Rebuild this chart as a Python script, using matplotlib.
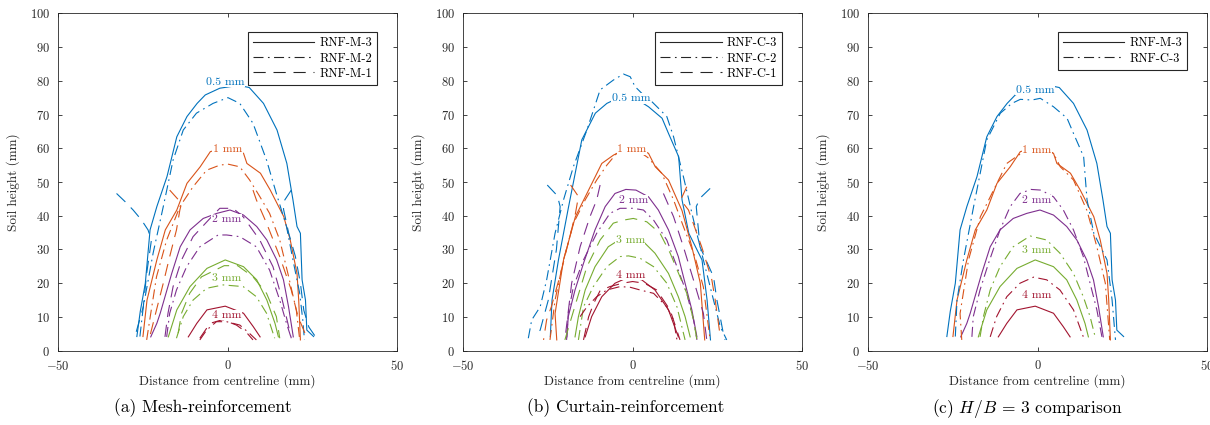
import matplotlib.pyplot as plt
from matplotlib.lines import Line2D

plt.rcParams['font.family'] = 'cmr10'
plt.rcParams['mathtext.fontset'] = 'cm'
plt.rcParams['axes.formatter.use_mathtext'] = True
plt.rcParams['axes.unicode_minus'] = False

# ---------- Data: contour lines (x, y) in mm, per specimen and settlement level ----------

levels = [0.5, 1, 2, 3, 4]
level_labels = ['0.5 mm', '1 mm', '2 mm', '3 mm', '4 mm']
level_colors = ['#0072BD', '#D95319', '#7E2F8E', '#77AC30', '#A2142F']

RNF_M3 = {
    0.5: [[(-26.8, 4.2), (-25.8, 11.6), (-24.3, 20), (-22.9, 35.8), (-20.9, 42.7), (-17.9, 51.6),
           (-15, 63.4), (-12, 69.4), (-9, 73.3), (-6.6, 75.8), (-2.3, 77.8), (1, 78.3), (4, 78.5),
           (6.4, 78), (10.6, 73.3), (14.6, 65.4), (17.5, 55.5), (19.3, 44.7), (20.5, 36.8),
           (21.5, 34.8), (22, 21), (23, 15), (23.4, 6.1), (25.4, 4.2)]],
    1: [[(-25, 4.2), (-23.8, 15), (-20.9, 26.9), (-18.4, 35.8), (-15, 41.7), (-12, 49.6),
         (-8.1, 54.5), (-5.1, 59), (-2, 59.8), (2, 59.8), (4.7, 58.5), (5.7, 55.5), (9.7, 52.6),
         (12.6, 47.6), (16.6, 39.7), (18.5, 32.8), (20.5, 22.9), (21, 15), (21.5, 3.2)]],
    2: [[(-22.7, 4.1), (-20.9, 8.1), (-19.9, 11.1), (-16.5, 22.9), (-14, 30.8), (-11.1, 35.8),
         (-7.2, 39.2), (-3.2, 40.7), (0.7, 41.7), (4.7, 40.2), (8.6, 36.8), (11.6, 32.8),
         (14.5, 26.9), (16.5, 21), (18, 13), (19.4, 4.1)]],
    3: [[(-17.5, 4.1), (-15, 12.1), (-11.1, 19), (-6.1, 24.4), (-0.7, 26.9), (4.7, 24.9),
         (8.6, 21), (11.6, 15), (14, 8.1), (15, 4.1)]],
    4: [[(-11.6, 4.1), (-9.1, 8.1), (-6.1, 12.1), (-0.7, 13.2), (4.7, 11.1), (7.6, 7.1), (9.6, 4.1)]],
}

RNF_M2 = {
    0.5: [[(-25.9, 4.2), (-24.9, 13), (-22, 28.9), (-19, 42.7), (-16.1, 56.5), (-13.1, 65.4),
           (-9.2, 70.4), (-4.3, 73.3), (0.1, 75), (3.6, 73.3), (7.5, 67.4), (11.5, 56.5),
           (14.4, 46.6), (17.4, 36.8), (19.3, 26.9), (21.3, 17), (22.2, 9.1), (22.7, 3.2)]],
    1: [[(-23.9, 3.2), (-23, 9.1), (-21, 21.9), (-18, 32.8), (-14.1, 42.7), (-10.2, 48.6),
         (-6.2, 53.5), (-2.3, 55), (0.1, 55.3), (3.6, 54.5), (6.5, 50.6), (9.5, 45.7), (12.4, 40.7),
         (15.4, 32.8), (17.8, 22.9), (20.3, 12), (21.3, 3.2)]],
    2: [[(-18, 4.1), (-17.1, 11.1), (-15.1, 18), (-12.1, 24.9), (-8.2, 30.8), (-2.8, 34.3),
         (-0.3, 34.3), (3.6, 33.8), (8.5, 30.8), (12.4, 23.9), (15.4, 15), (17.4, 8.1), (18.8, 3.7)]],
    3: [[(-15.1, 3.7), (-13.1, 10.1), (-10.2, 15), (-6.2, 18.5), (-1.3, 19.5), (4.6, 19),
         (8.5, 16), (11.5, 11.1), (13.9, 3.7)]],
    4: [[(-8.2, 3.2), (-6.2, 6.1), (-3.3, 8.6), (-0.3, 8.6), (3.6, 7.6), (6.5, 5.1), (8.5, 3.2)]],
}

RNF_M1 = {
    0.5: [[(-32.8, 46.6), (-30.3, 44.2), (-27.9, 41.7), (-25.4, 38.7), (-23.5, 35.8), (-22.5, 32.8),
           (-23.9, 22.9), (-24.9, 13), (-27.4, 4.1)],
          [(18.8, 47.6), (16.9, 44.7), (16.5, 42), (18, 35), (20, 28), (21.5, 20), (22.5, 12),
           (24, 7), (26.6, 3.2)]],
    1: [[(-17.1, 47.6), (-13.6, 43.7), (-14.1, 41.7), (-15.1, 35.8), (-17.1, 27.9), (-19, 20),
         (-21, 12.1), (-23, 4.1)],
        [(7.5, 47.6), (8.5, 44.7), (11.5, 37.8), (15.4, 27.9), (18.8, 18), (20.8, 10.1), (23.3, 4.1)]],
    2: [[(-18.5, 4.1), (-17.6, 11.1), (-16.1, 19), (-13.6, 26.9), (-10.2, 33.8), (-5.2, 39.2),
         (-2.3, 42.2), (1.6, 42.2), (4.6, 39.7), (9.5, 32.8), (13.4, 24.9), (15.9, 16),
         (17.8, 8.1), (18.8, 3.7)]],
    3: [[(-14.6, 5.2), (-13.6, 11.1), (-11.2, 17), (-7.7, 21.9), (-1, 25.2), (3, 25.2),
         (7.5, 21.9), (11.5, 17), (14.4, 10.1), (15.4, 3.7)]],
    4: [[(-8.2, 3.7), (-5.2, 8.1), (-1.5, 9.2), (2.6, 7.6), (5.5, 5.5), (7.5, 3.2)]],
}

RNF_C3 = {
    0.5: [[(-24.3, 4.2), (-23.8, 15), (-21.9, 26.9), (-18.9, 42.7), (-15, 62.5), (-11, 70.4),
           (-7.6, 73.3), (-5.1, 74.5), (-1.7, 74.3), (0.8, 74.8), (4.7, 72.3), (8.7, 68.9),
           (10.6, 64.4), (13.6, 57.5), (14.6, 44.7), (16.6, 34.8), (20.5, 26.9), (22, 15), (23, 3.2)]],
    1: [[(-22.4, 3.2), (-22.9, 11), (-20.4, 26.9), (-16.9, 39.7), (-13, 47.6), (-9.1, 55.5),
         (-5.6, 58), (-2, 59.8), (2, 59.8), (4.7, 58.5), (6.7, 54.5), (10.6, 50.6), (14.6, 41.5),
         (17.5, 30.8), (20, 20), (21.3, 3.2)]],
    2: [[(-19.4, 4.1), (-19, 10.1), (-17, 18), (-14.5, 25.9), (-11.1, 35.8), (-8.1, 42.7),
         (-5.2, 46.6), (-2, 47.8), (1, 47.6), (4.7, 45.6), (7.6, 41.7), (10.6, 35.8), (13.5, 27.9),
         (15.5, 20), (17.5, 12.1), (19, 4.1)]],
    3: [[(-17, 4.1), (-16, 10.1), (-14, 18), (-11.1, 24.9), (-7.2, 30.8), (-2.2, 34), (2.7, 32.8),
         (6.6, 28.9), (10.6, 22.9), (13.5, 16), (15.5, 10.1), (17, 4.1)]],
    4: [[(-14, 4.1), (-12.1, 10.1), (-9.1, 16), (-5.2, 20), (-1.2, 21.8), (2.7, 21), (6.6, 18),
         (10.6, 12.1), (13.5, 4.1)]],
}

RNF_C2 = {
    0.5: [[(-30.8, 3.7), (-29.8, 9.1), (-27.3, 13), (-25.4, 20.9), (-22.9, 34.8), (-20.4, 44.7),
           (-17.5, 54.5), (-13.5, 65.4), (-9.6, 77.3), (-5.7, 80.2), (-2.7, 82), (-0.7, 81.2),
           (0.7, 78.3), (3, 76), (5.2, 74.3), (10.1, 69.4), (12.1, 63.4), (15, 51.6), (18, 38.7),
           (20.9, 26.9), (23.9, 15), (25.9, 7.1), (27.8, 3.2)]],
    1: [[(-24.4, 3.2), (-22.9, 15), (-20.4, 26.9), (-17.5, 37.7), (-14, 44.7), (-10.6, 50.6),
         (-7.6, 55), (-4.7, 58.5), (-2, 59.5), (2, 59), (4.7, 57.1), (8.6, 52.6), (12.1, 44.7),
         (15, 36.8), (18.4, 27.9), (20.9, 18.9), (22.9, 3.2)]],
    2: [[(-19.5, 3.2), (-19, 11.1), (-17.5, 18.9), (-14.5, 26.9), (-10.6, 34.8), (-6.7, 40.7),
         (-3.7, 42.2), (0.2, 42.2), (3.2, 41.7), (6.2, 38.7), (10.1, 32.8), (13.1, 24.9),
         (16, 17), (18, 9.1), (19, 3.2)]],
    3: [[(-16, 3.2), (-14.5, 13), (-11.6, 19), (-7.6, 24.9), (-3.7, 27.9), (-1.2, 28.1),
         (2.2, 27.4), (6.2, 24.9), (10.1, 20), (13.1, 13), (15.5, 3.2)]],
    4: [[(-15.5, 10.1), (-13.5, 13), (-10.6, 16), (-7.6, 18), (-3.7, 19), (-0.7, 18.8),
         (2.2, 18), (6.2, 17), (10.1, 13), (12.1, 9.1), (13.1, 3.2)]],
}

RNF_C1 = {
    0.5: [[(-25.2, 49.1), (-22.2, 45.9), (-21.4, 42.7), (-22.5, 30), (-24.9, 15), (-27.3, 6.1),
           (-28.8, 4.2)],
          [(22.9, 48.1), (19.9, 45.2), (18.8, 42.7), (19.9, 30.8), (23.9, 21.9), (24.9, 15),
           (26.8, 5.1), (27.3, 3.2)]],
    1: [[(-18.3, 49.1), (-16, 45.7), (-17, 40), (-19, 32), (-21.5, 22), (-24, 13), (-25.4, 9.1),
         (-26.3, 3.2)],
        [(16, 48.6), (14.2, 44.7), (16.5, 41.7), (20.4, 30.8), (23.4, 21), (24.4, 15), (25.9, 4.1)]],
    2: [[(-9.6, 49.1), (-10.6, 44.7), (-12.6, 39.7), (-15.5, 30.8), (-18, 20), (-20, 3.2)],
        [(9.1, 46.6), (12.1, 39.7), (15, 30.8), (18, 20.9), (20.9, 11.1), (21.9, 3.2)]],
    3: [[(-20, 3.2), (-16.5, 15), (-13.5, 24.9), (-9.6, 32.8), (-5.7, 37.8), (-2.7, 38.7),
         (0.2, 39.2), (4.2, 38.2), (8.1, 34.8), (11.1, 28.9), (14, 21.9), (16, 17), (18, 9.1),
         (19, 3.2)]],
    4: [[(-14.5, 3.2), (-13, 10), (-11.5, 14), (-9.6, 17.8), (-6.7, 19), (-3, 20), (0, 20.5),
         (3.5, 20), (7.1, 18), (11.1, 12), (14, 3.2)]],
}

# label positions (x, y) for each level, per panel
labels_a = [(-0.8, 79.7), (0, 59.7), (-0.3, 38.9), (-0.3, 21.6), (-0.3, 10.6)]
labels_b = [(-0.5, 74.7), (-0.2, 59.7), (0.2, 44.7), (-0.7, 32.6), (-0.5, 22.4)]
labels_c = [(-0.7, 77.3), (-0.2, 59.5), (-0.2, 44.7), (-0.2, 29.8), (-0.2, 16.5)]

captions = ['(a) Mesh-reinforcement', '(b) Curtain-reinforcement', '(c) $H/B$ = 3 comparison']

# ---------- Plot ----------

SOLID = '-'
DASHDOT = (0, (9, 4, 1.5, 4))
DASHED = (0, (11, 7))
dark = '#262626'

fig = plt.figure(figsize=(12.1, 4.25), dpi=100)
ax_lefts = [58.3 / 1210, 463.3 / 1210, 868.3 / 1210]
ax_w = 338.6 / 1210
ax_b = 1 - 350.7 / 425
ax_h = 337.4 / 425


def draw_panel(ax, specimens, label_pos):
    for spec, ls, name in specimens:
        for lev, col in zip(levels, level_colors):
            for seg in spec[lev]:
                xs = [p[0] for p in seg]
                ys = [p[1] for p in seg]
                ax.plot(xs, ys, color=col, ls=ls, lw=0.8)
    for (lx, ly), txt, col in zip(label_pos, level_labels, level_colors):
        ax.text(lx, ly, txt, color=col, fontsize=8.5, ha='center', va='center', zorder=5,
                bbox=dict(facecolor='white', edgecolor='none', pad=0.4))
    handles = [Line2D([], [], color=dark, ls=ls, lw=0.8) for _, ls, _ in specimens]
    leg = ax.legend(handles, [n for _, _, n in specimens], loc='upper right',
                    bbox_to_anchor=(0.941, 0.944), fontsize=9, handlelength=4.9,
                    handletextpad=0.4, labelspacing=0.25, borderpad=0.4, fancybox=False,
                    framealpha=1, borderaxespad=0)
    leg.get_frame().set_edgecolor(dark)
    leg.get_frame().set_linewidth(0.8)

    ax.set_xlim(-50, 50)
    ax.set_ylim(0, 100)
    ax.set_xticks([-50, 0, 50])
    ax.set_yticks(range(0, 101, 10))
    ax.tick_params(direction='in', top=True, right=True, length=3, width=0.6,
                   labelsize=9, colors=dark, pad=6)
    for sp in ax.spines.values():
        sp.set_color(dark)
        sp.set_linewidth(0.6)
    ax.set_xlabel('Distance from centreline (mm)', fontsize=9.5, color=dark, labelpad=1)
    ax.set_ylabel('Soil height (mm)', fontsize=9.5, color=dark, labelpad=7)


panels = [
    ([(RNF_M3, SOLID, 'RNF-M-3'), (RNF_M2, DASHDOT, 'RNF-M-2'), (RNF_M1, DASHED, 'RNF-M-1')], labels_a),
    ([(RNF_C3, SOLID, 'RNF-C-3'), (RNF_C2, DASHDOT, 'RNF-C-2'), (RNF_C1, DASHED, 'RNF-C-1')], labels_b),
    ([(RNF_M3, SOLID, 'RNF-M-3'), (RNF_C3, DASHDOT, 'RNF-C-3')], labels_c),
]

cap_x = [0.168, 0.517, 0.849]
for left, (specs, lp), cap, cx in zip(ax_lefts, panels, captions, cap_x):
    ax = fig.add_axes([left, ax_b, ax_w, ax_h])
    draw_panel(ax, specs, lp)
    fig.text(cx, 1 - 408 / 425, cap, fontsize=12.5, ha='center', va='center')

fig.savefig('out.png', dpi=100)
